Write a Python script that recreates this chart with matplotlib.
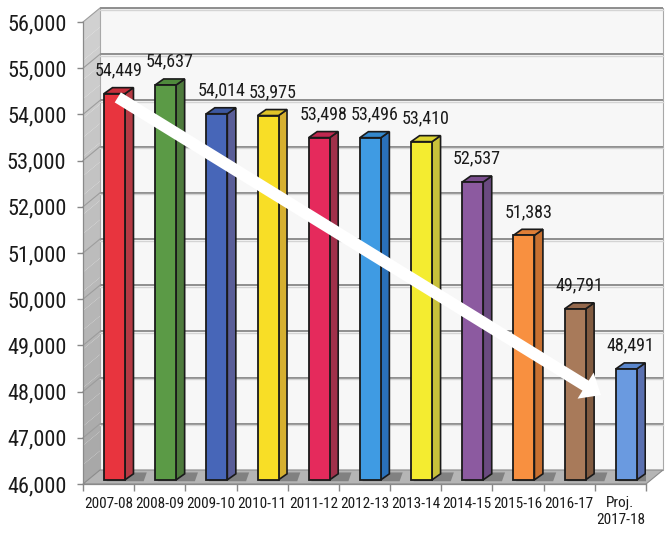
import numpy as np
import matplotlib.pyplot as plt
from matplotlib.patches import Polygon, Rectangle, FancyArrowPatch
from matplotlib import transforms

plt.rcParams['font.family'] = ['Roboto Condensed', 'DejaVu Sans Condensed',
                               'Liberation Sans', 'DejaVu Sans']

# enrollment by school year
years = ['2007-08', '2008-09', '2009-10', '2010-11', '2011-12', '2012-13',
         '2013-14', '2014-15', '2015-16', '2016-17', 'Proj.\n2017-18']
enroll = [54449, 54637, 54014, 53975, 53498, 53496, 53410, 52537, 51383, 49791, 48491]
y_ticks = list(range(46000, 56001, 1000))

face = ['#e8343e', '#5b9a46', '#4766b8', '#f8de26', '#e52a5c', '#3f9be3',
        '#f4ec30', '#8c5aa0', '#f89040', '#a87a5a', '#6a9ae0']
side = ['#b53a44', '#4d7a3c', '#5a5e98', '#d6b030', '#a0304a', '#2a70b8',
        '#c8c03a', '#6a4a80', '#c87030', '#805a40', '#5a70b0']
top = ['#c8303c', '#4f8a3c', '#3d58a0', '#e0c428', '#c02850', '#3488cc',
       '#dcd430', '#7a4e8e', '#e07e36', '#94684c', '#5a86cc']

fig = plt.figure(figsize=(6.72, 5.35), dpi=100)
ax = fig.add_axes([83 / 672, 51 / 535, 563 / 672, 462 / 535])
ax.patch.set_visible(False)

# depth of the box (axes fraction)
ox, oy = 17 / 563, 14 / 462

# side wall (light-to-dark bands), back wall, floor
nb = 24
for k in range(nb):
    y0, y1 = k / nb, (k + 1) / nb
    g = 0.66 + 0.16 * (k / (nb - 1))
    ax.add_patch(Polygon([(0, y0), (ox, y0 + oy), (ox, y1 + oy), (0, y1)], closed=True,
                         transform=ax.transAxes, facecolor=(g, g, g), edgecolor='none',
                         clip_on=False, zorder=0.1))
back_wall = Polygon([(ox, oy), (1 + ox, oy), (1 + ox, 1 + oy), (ox, 1 + oy)], closed=True,
                    transform=ax.transAxes, facecolor='#f7f7f7', edgecolor='#a8a8a8',
                    lw=0.8, clip_on=False, zorder=0.1)
floor = Polygon([(0, 0), (1, 0), (1 + ox, oy), (ox, oy)], closed=True,
                transform=ax.transAxes, facecolor='#b5b5b5', edgecolor='#8a8a8a',
                lw=0.8, clip_on=False, zorder=0.2)
for p in (back_wall, floor):
    ax.add_patch(p)

# gridlines on the back wall and the side wall
back = ax.get_yaxis_transform() + transforms.ScaledTranslation(0.17, 0.14, fig.dpi_scale_trans)
for t in y_ticks[1:]:
    ax.plot([0, 1], [t, t], transform=back, color='#8f8f8f', lw=1.4,
            clip_on=False, zorder=0.3, solid_capstyle='butt')
    ax.plot([0, 1], [t, t], transform=back + transforms.ScaledTranslation(0, -0.015, fig.dpi_scale_trans),
            color='#d4d4d4', lw=1.0, clip_on=False, zorder=0.3)
    f = (t - 46000) / 10000
    ax.plot([0, ox], [f, f + oy], transform=ax.transAxes, color='#9c9c9c',
            lw=0.8, clip_on=False, zorder=0.3)

# 3D bars
w, dx, dy = 0.41, 0.166, 130
base = 46090
for i, v in enumerate(enroll):
    x0 = i - 0.09
    shadow = Polygon([(x0 + 0.05, base - 30), (x0 + w + dx + 0.2, base - 30),
                      (x0 + w + dx + 0.26, base + dy + 30), (x0 + dx, base + dy + 30)],
                     closed=True, facecolor='#4e4e4e', edgecolor='none', alpha=0.5, zorder=0.5)
    ax.add_patch(shadow)
    ax.add_patch(Polygon([(x0 + w, base), (x0 + w + dx, base + dy), (x0 + w + dx, v + dy), (x0 + w, v)],
                         closed=True, facecolor=side[i], edgecolor='#1a1a1a', lw=1.2, zorder=3))
    ax.add_patch(Polygon([(x0, v), (x0 + w, v), (x0 + w + dx, v + dy), (x0 + dx, v + dy)],
                         closed=True, facecolor=top[i], edgecolor='#1a1a1a', lw=1.2, zorder=3))
    ax.add_patch(Rectangle((x0, base), w, v - base, facecolor=face[i],
                           edgecolor='#1a1a1a', lw=1.3, zorder=3))
    ax.annotate(f'{v:,}', (i + 0.2, v + dy), xytext=(0, 6), textcoords='offset points',
                ha='center', va='bottom', fontsize=13, color='#1a1a1a', zorder=5)

# trend arrow
arrow = FancyArrowPatch((0.18, 54368), (9.62, 47924),
                        arrowstyle='simple,head_length=1.3,head_width=2.2,tail_width=0.85',
                        mutation_scale=10, facecolor='white', edgecolor='none',
                        shrinkA=0, shrinkB=0, zorder=10)
ax.add_patch(arrow)

ax.set_xlim(-0.5, 10.5)
ax.set_ylim(46000, 56000)
ax.set_yticks(y_ticks)
ax.set_yticklabels([f'{t:,}' for t in y_ticks])
ax.set_xticks(range(len(years)))
ax.set_xticklabels(years)
ax.set_xticks(np.arange(-0.5, 10.6, 1), minor=True)

ax.tick_params(axis='y', length=4, width=1, color='#888888', pad=8,
               labelsize=16, labelcolor='#1a1a1a')
ax.tick_params(axis='x', which='major', length=0, pad=9,
               labelsize=11, labelcolor='#1a1a1a')
ax.tick_params(axis='x', which='minor', length=5, width=1, color='#888888')
for s in ('top', 'right'):
    ax.spines[s].set_visible(False)
for s in ('left', 'bottom'):
    ax.spines[s].set_color('#8a8a8a')
    ax.spines[s].set_linewidth(0.9)

fig.savefig('out.png', dpi=100)
